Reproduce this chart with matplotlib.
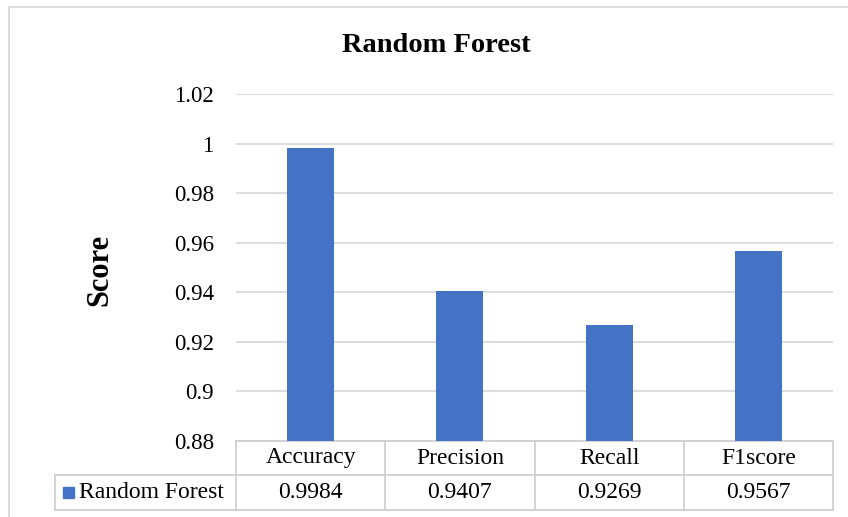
import matplotlib.pyplot as plt
from matplotlib.patches import Rectangle
import matplotlib.transforms as mtransforms

categories = ["Accuracy", "Precision", "Recall", "F1score"]
scores = [0.9984, 0.9407, 0.9269, 0.9567]
value_labels = ["0.9984", "0.9407", "0.9269", "0.9567"]
series_name = "Random Forest"
yticks = [0.88, 0.9, 0.92, 0.94, 0.96, 0.98, 1.0, 1.02]
ytick_labels = ["0.88", "0.9", "0.92", "0.94", "0.96", "0.98", "1", "1.02"]

bar_color = "#4472C4"
grid_color = "#D9D9D9"
line_color = "#D0D0D0"

plt.rcParams["font.family"] = ["Liberation Serif", "DejaVu Serif"]

W, H = 848, 517
fig = plt.figure(figsize=(W / 100, H / 100), dpi=100)
ax = fig.add_axes([236 / W, 1 - 441 / H, (833 - 236) / W, (441 - 94) / H])

x = list(range(len(categories)))
ax.bar(x, scores, width=0.315, color=bar_color, zorder=3)
ax.set_xlim(-0.5, len(categories) - 0.5)
ax.set_ylim(0.88, 1.02)
ax.set_yticks(yticks)
ax.set_yticklabels(ytick_labels)
ax.set_xticks([])
ax.yaxis.grid(True, color=grid_color, linewidth=1.3)
ax.set_axisbelow(True)
for s in ax.spines.values():
    s.set_visible(False)
ax.tick_params(axis="y", length=0, pad=16, labelsize=16.5)

fig.text(436 / W, 1 - 45 / H, "Random Forest", ha="center", va="center",
         fontsize=20.5, fontweight="bold")
fig.text(100 / W, 1 - 270 / H, "Score", ha="center", va="center",
         fontsize=22, fontweight="bold", rotation=90)

# outer chart border
fig.patches.append(Rectangle((9 / W, -0.1), 1.2, 1 - 7 / H + 0.1,
                             transform=fig.transFigure, fill=False,
                             edgecolor=grid_color, linewidth=1.3))

# data table below the axes (x in data units, y in figure fraction)
tr = mtransforms.blended_transform_factory(ax.transData, fig.transFigure)
ftr = fig.transFigure
y_top, y_mid, y_bot = 1 - 441 / H, 1 - 475 / H, 1 - 510 / H
x_left, x_right = -0.5, len(categories) - 0.5
lk = dict(color=line_color, linewidth=1.3, clip_on=False)
ax.plot([x_left, x_right], [y_top, y_top], transform=tr, **lk)
ax.plot([x_left, x_right], [y_mid, y_mid], transform=tr, **lk)
ax.plot([x_left, x_right], [y_bot, y_bot], transform=tr, **lk)
for i in range(len(categories) + 1):
    ax.plot([i - 0.5, i - 0.5], [y_top, y_bot], transform=tr, **lk)
fig.lines.append(plt.Line2D([55 / W, 236 / W], [y_mid, y_mid], transform=ftr, color=line_color, linewidth=1.3))
fig.lines.append(plt.Line2D([55 / W, 236 / W], [y_bot, y_bot], transform=ftr, color=line_color, linewidth=1.3))
fig.lines.append(plt.Line2D([55 / W, 55 / W], [y_mid, y_bot], transform=ftr, color=line_color, linewidth=1.3))

for i, (c, v) in enumerate(zip(categories, value_labels)):
    ax.text(i, (y_top + y_mid) / 2, c, transform=tr, ha="center", va="center", fontsize=17)
    ax.text(i, (y_mid + y_bot) / 2, v, transform=tr, ha="center", va="center", fontsize=17)

fig.patches.append(Rectangle((63 / W, 1 - 498 / H), 11 / W, 11 / H,
                             transform=ftr, color=bar_color))
fig.text(79 / W, (y_mid + y_bot) / 2, series_name, ha="left", va="center", fontsize=17)

fig.savefig("out.png", dpi=100)
